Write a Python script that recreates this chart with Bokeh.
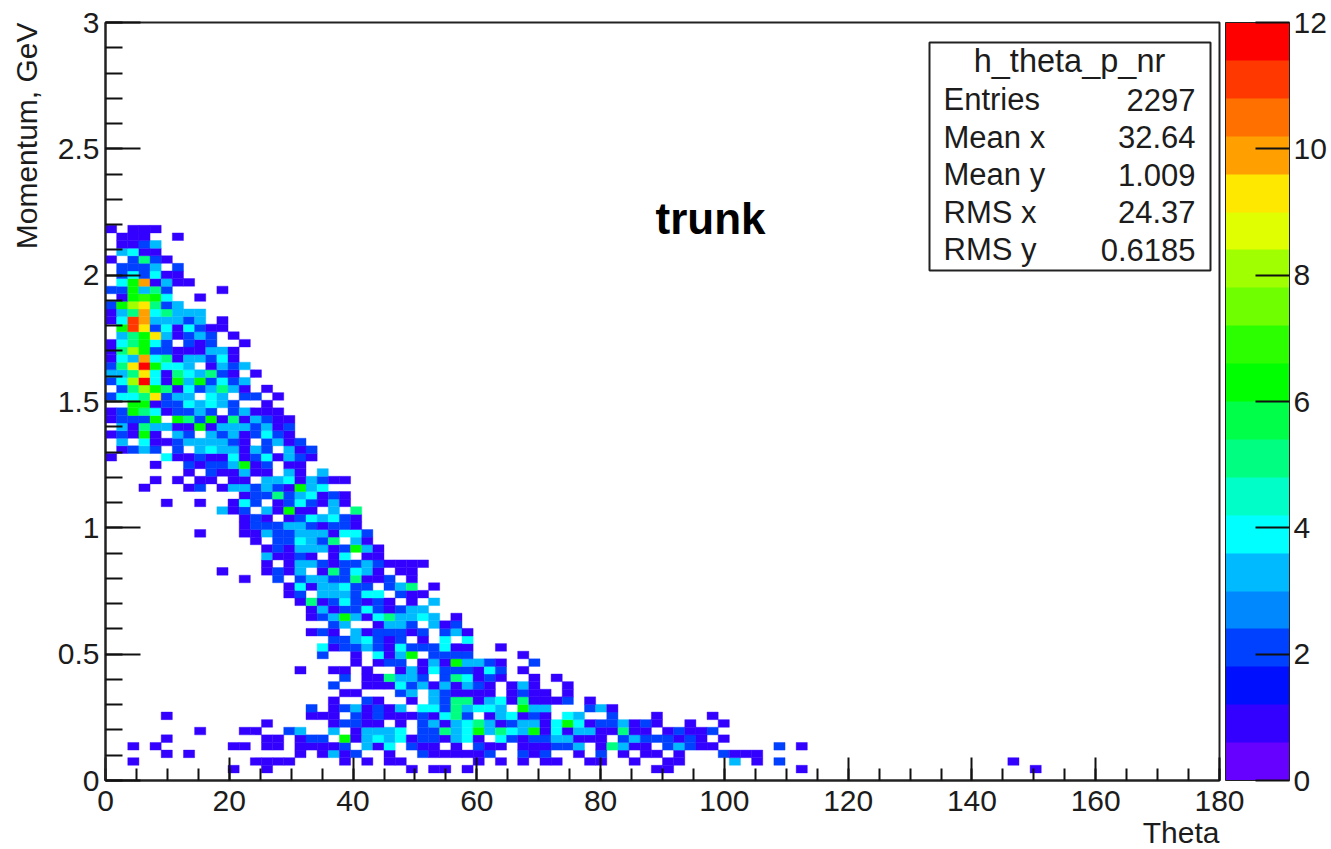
from bokeh.plotting import figure
from bokeh.embed import file_html
from bokeh.resources import INLINE
from bokeh.models import (ColumnDataSource, LinearColorMapper, ColorBar, FixedTicker, Label,
                          BoxAnnotation, Range1d, Title)
from bokeh.transform import transform

# counts per bin; each string is one momentum row, each character one theta bin
# '.' = empty, digits = count, a/b/c = 10/11/12
row_72 = "1.111"
row_71 = ".111..1"
row_70 = ".1123"
row_69 = ".3411"
row_68 = "1.2521"
row_67 = ".2223.2"
row_66 = ".242411"
row_65 = ".46a1311"
row_64 = "226352....1"
row_63 = ".16764..1"
row_62 = "2689523"
row_61 = "135a45333"
row_60 = "14ba33323.1"
row_59 = ".6b92414211"
row_58 = ".356931232.1"
row_57 = "145642.212..1"
row_56 = "158622111331"
row_55 = "143a45133241"
row_54 = "259c6443.1323"
row_53 = "335941543521.1"
row_52 = "248c416362423"
row_51 = ".258651423531.1"
row_50 = "24459233.43.22.1"
row_49 = "..6612243432..1"
row_48 = "1265412232.23111"
row_47 = "12226.65261513211"
row_46 = ".3153311613332312"
row_45 = "12161.32.32312421"
row_44 = ".3.4112333321.2312"
row_43 = ".1232.2.3433132.312"
row_42 = "1....41121141241321"
row_41 = "....1..21223612.11"
row_40 = ".......1.211311.31.3"
row_39 = "....1.1.11.11.33413211"
row_38 = "...1...12.1332321634"
row_37 = "............1225234121"
row_36 = ".....1..1..142.1242131"
row_35 = "..........312.31611.3.5"
row_34 = "............121.1243421"
row_33 = "............12223321221"
row_32 = "........1...113223331442"
row_31 = ".............1.224325.31"
row_30 = "..............12133312631"
row_29 = "..............31121.14.11"
row_28 = "..............1.1332122321111"
row_27 = "..........1...1213.152431.11"
row_26 = "............1..2.233225112.1"
row_25 = "................14133422.235.1"
row_24 = "................12.333244.211"
row_23 = ".................151242121.1.3"
row_22 = "..................13122421233"
row_21 = "..................123631453343.1"
row_20 = "....................23..1332.312"
row_19 = "..................121.3122212.231"
row_18 = "....................2234212.1.4.4"
row_17 = "...................41223214222411..1"
row_16 = "...................2..1.4136.2222....1"
row_15 = "......................1.122.13163321..2"
row_14 = ".................1..11.1..1314222142.1"
row_13 = ".....................2.115332.254121..1.1"
row_12 = "....................2..111423131321.131..1"
row_11 = ".....................11...23.321111.1211.1"
row_10 = "....................1..21..1.3255134151112.1"
row_09 = "..................2.1231213.44253443.633...231"
row_08 = ".....1............111.21211121452.134121.43..2...1....1"
row_07 = "..............1.....12211.1.2313453123314641223121..1..1"
row_06 = "........1...11..23..3.13334.225346354361413311511.12112"
row_05 = ".....1........11.122.6134341221341.4212233111.23222121.1"
row_04 = "..1.1......11.11.11112.314.211.1.211.111223.15311.23211.....2.1"
row_03 = ".....1.1.........1.1312..1..2111112..212..1.2.1.11.1...2111"
row_02 = "..1..........1111....1.1.11......1.1.1.11..11..1..11....3.1.2....................1"
row_01 = "...........1..1............1.11.1................11...........1....................1"

palette = ["#6600ff", "#3300ff", "#0010ff", "#0040ff", "#0088ff", "#00baff", "#00ffff",
           "#00ffc8", "#00ff80", "#00ff48", "#00ff00", "#2cff00", "#70ff00", "#a0ff00",
           "#e0ff00", "#ffe800", "#ffa000", "#ff7000", "#ff3800", "#ff0000"]
x_ticks = [0, 20, 40, 60, 80, 100, 120, 140, 160, 180]
y_ticks = [0, 0.5, 1, 1.5, 2, 2.5, 3]
z_ticks = [0, 2, 4, 6, 8, 10, 12]
stats_names = ["Entries", "Mean x", "Mean y", "RMS x", "RMS y"]
stats_values = ["2297", "32.64", "1.009", "24.37", "0.6185"]
stats_title = "h_theta_p_nr"
x_bin = 1.8
y_bin = 0.0301

FONT = "Liberation Sans"
INK = "#1c1c1c"
FS = "30px"

left, right, bottom, top, count = [], [], [], [], []
for r in range(1, 73):
    s = globals()[f"row_{r:02d}"]
    for c, ch in enumerate(s):
        if ch != ".":
            left.append(c * x_bin)
            right.append((c + 1) * x_bin)
            bottom.append(r * y_bin)
            top.append((r + 1) * y_bin)
            count.append(int(ch, 16))
source = ColumnDataSource(dict(left=left, right=right, bottom=bottom, top=top, count=count))

p = figure(frame_width=1114, frame_height=758, min_border_left=105, min_border_top=22,
           min_border_bottom=68, min_border_right=112,
           x_range=Range1d(0, 180), y_range=Range1d(0, 3),
           output_backend="svg", toolbar_location=None)
p.grid.visible = False
p.background_fill_color = "white"
p.outline_line_color = "#222222"
p.outline_line_width = 2

mapper = LinearColorMapper(palette=palette, low=0, high=12)
p.quad(left="left", right="right", bottom="bottom", top="top", source=source,
       fill_color=transform("count", mapper), line_color=transform("count", mapper), line_width=0.4)

ax = p.xaxis[0]
ax.ticker = FixedTicker(ticks=x_ticks, minor_ticks=[i * 5 for i in range(37)])
ax.major_tick_in, ax.major_tick_out = 23, 0
ax.minor_tick_in, ax.minor_tick_out = 12, 0
ay = p.yaxis[0]
ay.ticker = FixedTicker(ticks=y_ticks, minor_ticks=[i * 0.1 for i in range(31)])
ay.major_tick_in, ay.major_tick_out = 35, 0
ay.minor_tick_in, ay.minor_tick_out = 17, 0
for a in (ax, ay):
    a.axis_line_color = "#222222"
    a.axis_line_width = 2
    a.major_tick_line_color = "#111111"
    a.minor_tick_line_color = "#111111"
    a.major_tick_line_width = 2
    a.minor_tick_line_width = 2
    a.major_label_text_font = FONT
    a.major_label_text_font_size = FS
    a.major_label_text_color = INK
ax.major_label_standoff = 10
ay.major_label_standoff = 6

cb = ColorBar(color_mapper=mapper, ticker=FixedTicker(ticks=z_ticks), width=64, location=(6, 0),
              margin=0, padding=0, major_tick_in=34, major_tick_out=0,
              major_tick_line_color="#111111", major_tick_line_width=2,
              minor_tick_line_color=None, bar_line_color="#222222", bar_line_width=1,
              major_label_text_font=FONT, major_label_text_font_size=FS,
              major_label_text_color=INK, label_standoff=4)
p.add_layout(cb, "right")

p.add_layout(Title(text="Momentum, GeV", align="right", vertical_align="top", text_font=FONT,
                   text_font_size=FS, text_font_style="normal", text_color=INK, standoff=19), "left")
p.add_layout(Title(text="Theta", align="right", text_font=FONT, text_font_size=FS,
                   text_font_style="normal", text_color=INK, standoff=1), "below")


def dx(px):
    return (px - 105) * 180 / 1114


def dy(py):
    return (780 - py) * 3 / 758


def txt(text, px, py, size="31px", align="left", base="middle", style="normal"):
    p.add_layout(Label(x=dx(px), y=dy(py), text=text, text_font=FONT, text_font_size=size,
                       text_align=align, text_baseline=base, text_font_style=style,
                       text_color=INK if style == "normal" else "black"))


txt("trunk", 655, 218, size="44px", base="alphabetic", style="bold")

p.add_layout(BoxAnnotation(left=dx(929), right=dx(1210), top=dy(42), bottom=dy(270),
                           fill_color="white", fill_alpha=1, line_color="#222222",
                           line_alpha=1, line_width=2))
p.line([dx(929), dx(1210)], [dy(80), dy(80)], line_color="#222222", line_width=2)
txt(stats_title, 1069, 60, size="32.5px", align="center")
for i, (n, v) in enumerate(zip(stats_names, stats_values)):
    y = 99 + i * 37.5
    txt(n, 943, y)
    txt(v, 1195, y, align="right")

open("out.html", "w").write(file_html(p, INLINE))
